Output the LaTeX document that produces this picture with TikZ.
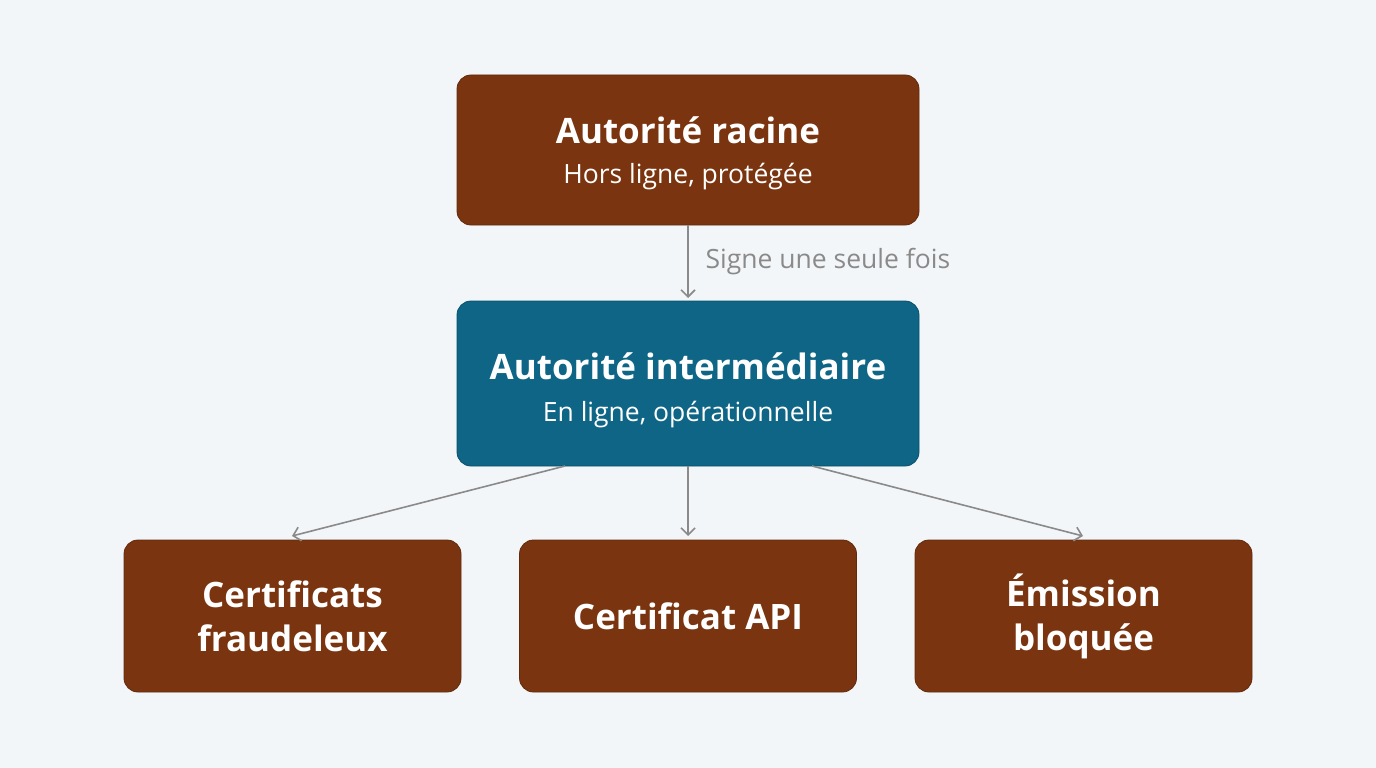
\documentclass[tikz,border=0pt]{standalone}
\usepackage{fontspec}
\setmainfont{Open Sans}
\definecolor{bg}{HTML}{F3F6F9}
\definecolor{brown}{HTML}{7A3510}
\definecolor{teal}{HTML}{0E6585}
\definecolor{arr}{HTML}{8A8A8A}
\begin{document}
\begin{tikzpicture}[x=1pt,y=-1pt,
 box/.style={fill=#1,draw=#1!80!black,rounded corners=14pt,text=white,align=center,line width=0.8pt},
 ttl/.style={font=\fontsize{35}{42}\selectfont\bfseries},
 sub/.style={font=\fontsize{26.5}{30}\selectfont},
 con/.style={draw=arr,line width=1.6pt,-{Straight Barb[length=7pt,width=14pt]}}]
\usetikzlibrary{arrows.meta}
\fill[bg] (0,0) rectangle (1376,768);
\node[box=brown,minimum width=462pt,minimum height=150pt] (root) at (688,150) {};
\node[ttl,text=white] at (688,130) {Autorité racine};
\node[sub,text=white] at (688,177) {Hors ligne, protégée};
\node[box=teal,minimum width=462pt,minimum height=165pt] (mid) at (688,383.5) {};
\node[ttl,text=white] at (688,366) {Autorité intermédiaire};
\node[sub,text=white] at (688,415) {En ligne, opérationnelle};
\node[box=brown,ttl,minimum width=337pt,minimum height=152pt] (a) at (292.5,616) {Certificats\\[2pt]fraudeleux};
\node[box=brown,ttl,minimum width=337pt,minimum height=152pt] (b) at (688,616) {Certificat API};
\node[box=brown,ttl,minimum width=337pt,minimum height=152pt] (c) at (1083.5,616) {Émission\\[2pt]bloquée};
\draw[con] (root.south) -- (688,298) coordinate (m1);
\node[sub,text=arr,anchor=west] (lab) at (702,262) {Signe une seule fois};
\draw[con] (565,466) -- (292,536);
\draw[con] (mid.south) -- (688,536);
\draw[con] (812,466) -- (1083,536);
\end{tikzpicture}
\end{document}
